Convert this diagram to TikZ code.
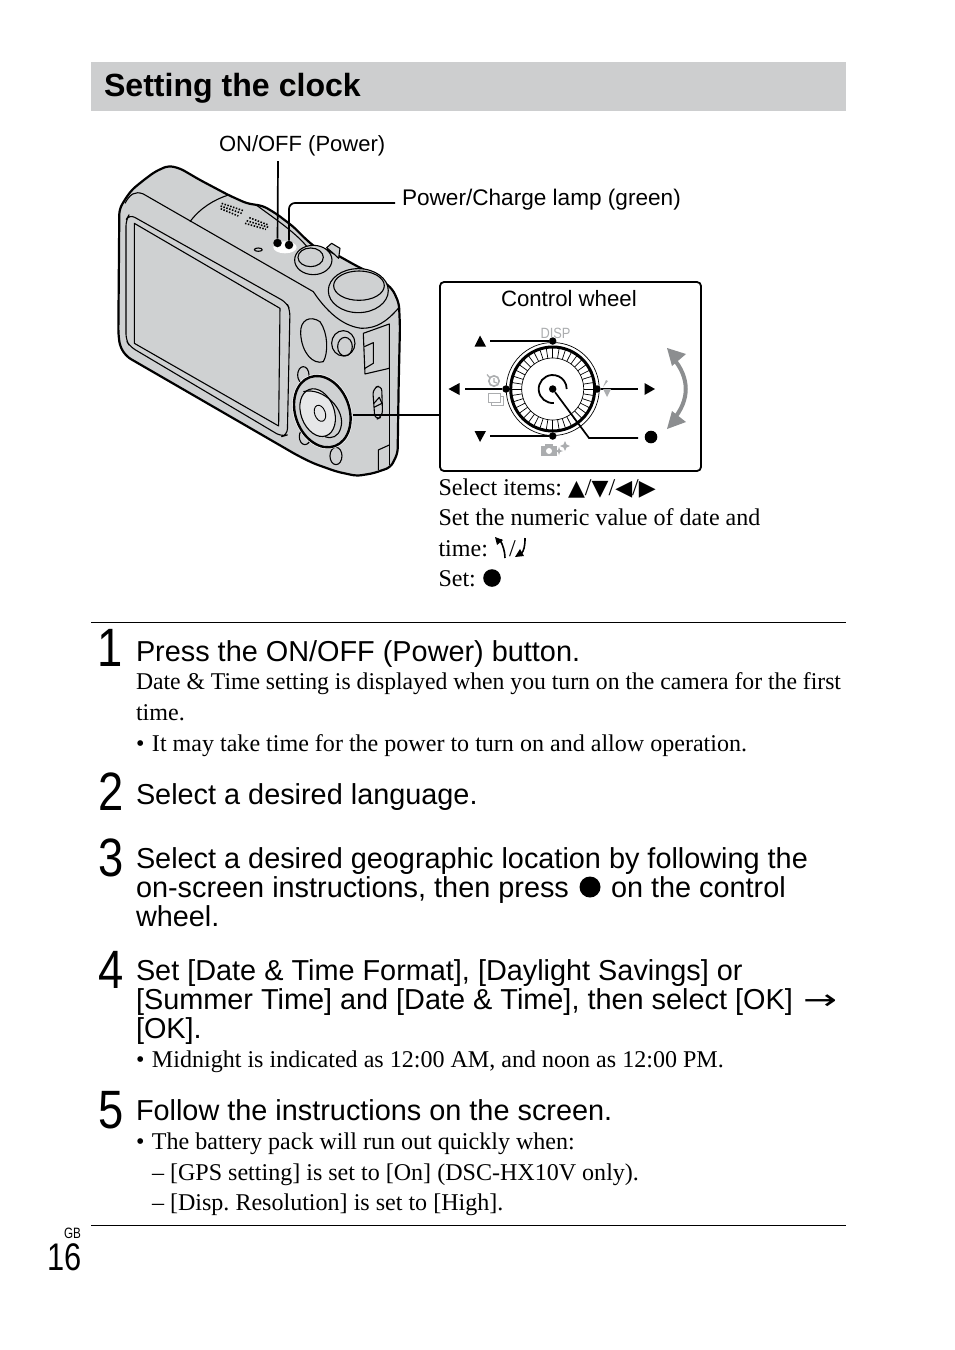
\documentclass[tikz,border=0pt]{standalone}
\usepackage{fontspec}
\usepackage{graphicx}
\usetikzlibrary{calc}
\setmainfont{Liberation Serif}
\setsansfont{Liberation Sans}
\newfontfamily\djv{DejaVu Sans}
\definecolor{band}{HTML}{CDCECF}
\definecolor{body}{HTML}{CFD1D2}
\definecolor{disc}{HTML}{E6E7E8}
\definecolor{wheelgray}{HTML}{8C8E90}
\definecolor{icongray}{HTML}{ABADAF}
\newcommand{\fsz}[1]{\fontsize{#1}{#1}\selectfont}
\newcommand{\bignum}[1]{\scalebox{0.84}[1]{\sffamily\fsz{54}#1}}
\newcommand{\tri}[1]{{\djv\fsz{22}#1}}
\newcommand{\bul}{\makebox[16pt][l]{•}}
\frenchspacing
\tikzset{
  txt/.style={anchor=base west,inner sep=0pt,outer sep=0pt},
  head/.style={txt,font=\sffamily\bfseries\fsz{32.1}},
  lab/.style={txt,font=\sffamily\fsz{22.2}},
  ser/.style={txt,font=\rmfamily\fsz{24.05}},
  stp/.style={txt,font=\sffamily\fsz{28.85}},
  num/.style={txt},
  cam/.style={line width=1.1pt,line join=round},
  camthick/.style={line width=2.2pt,line join=round},
  spk/.style={line width=1.6pt,dash pattern=on 1.5pt off 1.5pt},
  leader/.style={line width=1.7pt,black},
  dot/.style={circle,fill=black,inner sep=0pt,minimum size=7.5pt},
  rulel/.style={line width=0.8pt},
}
\begin{document}
\begin{tikzpicture}[x=1pt,y=-1pt]
\useasboundingbox (0,0) rectangle (954,1350);
\fill[white] (0,0) rectangle (954,1350);
\fill[band] (91,62) rectangle (846,111);
\node[head] (title) at (104,96) {Setting the clock};

% camera
\begin{scope}[shift={(100,120)},x=.3333pt,y=-.3333pt]
\filldraw[fill=body,camthick,rounded corners=5pt]
  (58,268) -- (75,238) -- (95,210) -- (125,185) -- (165,155) -- (205,137) -- (240,145) -- (300,180) -- (385,225) -- (440,250) -- (490,258) -- (530,282) -- (580,320) -- (620,360) -- (650,385) -- (680,388)
  -- (720,410) -- (770,438) -- (830,468) -- (878,508) -- (897,550) -- (900,620) -- (896,800) -- (893,1000) -- (872,1042) -- (820,1060) -- (770,1068) -- (710,1055) -- (640,1030) -- (590,1005) -- (400,895) -- (80,710) -- (60,680) -- (55,640) -- cycle;
% screen bezel and screen
\draw[cam,rounded corners=6pt] (78,300) -- (88,283) -- (560,548) -- (570,570) -- (562,945) -- (545,950) -- (90,680) -- (78,660) -- cycle;
\draw[cam] (103,310) -- (540,565) -- (536,918) -- (103,670) -- cycle;
% top edge of back plate
\draw[cam] (75,250) .. controls (90,222) and (105,212) .. (130,222) -- (640,515) .. controls (690,590) and (740,620) .. (785,625) .. controls (830,625) and (860,605) .. (895,565);
% flash hump
\draw[cam] (270,305) .. controls (300,265) and (340,240) .. (385,225);
\draw[cam] (470,256) .. controls (530,300) and (590,340) .. (625,385);
% speaker
\draw[spk] (365,250) -- (430,272) (362,258) -- (425,280) (362,266) -- (415,288);
\draw[spk] (448,293) -- (505,315) (440,302) -- (505,322) (435,310) -- (498,328);
\draw[cam] (475,389) ellipse (12 and 5);
% power button, dial, shutter
\fill[white] (555,382) ellipse (35 and 18);
\draw[cam,fill=body] (680,383) -- (695,370) -- (720,385) -- (716,415) -- (700,400) -- cycle;
\draw[cam,fill=body] (640,420) ellipse (56 and 44);
\draw[cam,fill=body] (632,412) ellipse (38 and 28);
\draw[cam,fill=body] (775,512) ellipse (90 and 66);
\draw[cam,fill=body] (777,497) ellipse (76 and 44);
% right-hand controls
\draw[cam] (602,640) .. controls (600,600) and (630,585) .. (660,605) .. controls (685,640) and (685,700) .. (670,725) .. controls (640,735) and (605,700) .. (602,640) -- cycle;
\draw[cam] (730,670) ellipse (35 and 38);
\draw[cam] (735,680) ellipse (22 and 28);
\draw[cam] (790,640) -- (868,612) -- (868,745) -- (795,762) -- cycle;
\draw[cam] (793,680) -- (820,668) -- (820,730) -- (795,745);
\draw[cam] (868,612) -- (868,1035);
\draw[cam,rounded corners=6pt] (818,805) -- (845,795) -- (848,890) -- (825,900) -- cycle;
\draw[cam] (822,850) -- (838,832) -- (846,850) -- (822,862);
\draw[cam] (835,1050) -- (835,990) -- (868,975);
\draw[cam] (610,765) ellipse (17 and 25);
\draw[cam] (615,950) ellipse (17 and 24);
\draw[cam] (708,1008) ellipse (18 and 26);
% control wheel on camera
\draw[white,line width=3.6pt] (667,875) ellipse[x radius=81,y radius=110,rotate=20];
\draw[camthick,line width=2.4pt,fill=body] (667,875) ellipse[x radius=81,y radius=110,rotate=20];
\draw[cam,fill=disc] (653,878) ellipse[x radius=50,y radius=74,rotate=20];
\draw[cam] (610,815) .. controls (670,800) and (740,870) .. (722,925) .. controls (715,950) and (695,958) .. (675,950);
\draw[line width=.9pt,fill=disc] (660,880) ellipse[x radius=16,y radius=25,rotate=20];
\end{scope}

\node[lab,font=\sffamily\fsz{22}] (onoff) at (219,151) {ON/OFF (Power)};
\node[lab,font=\sffamily\fsz{22.6}] (lamp) at (402,205) {Power/Charge lamp (green)};
\coordinate (onoffend) at (278,161);
\node[dot,minimum size=8.5pt] (ondot) at (277.5,243) {};
\node[dot,minimum size=8.5pt] (lampdot) at (289,245) {};
\coordinate (lampend) at (395,203);
\draw[leader] (onoffend) -- (ondot);
\draw[leader,rounded corners=6pt] (lampend) -- (289,203) -- (lampdot);

% control wheel panel
\node[draw,line width=1.8pt,rounded corners=4pt,minimum width=261pt,minimum height=189pt,inner sep=0pt,outer sep=0pt,anchor=north west] (panel) at (440,282) {};
\coordinate (camwheel) at (353,415);
\draw[line width=1.6pt] (camwheel) -- (panel.west |- camwheel);
\node[lab] (cwlabel) at (501,306) {Control wheel};

\coordinate (wc) at (552.7,389);
\draw[line width=.7pt] (wc) circle (46.5);
\draw[line width=.7pt] (wc) circle (31);
\foreach \a in {0,9,...,351} \draw[line width=.7pt] ($(wc)+(\a:31)$) -- ($(wc)+(\a:41)$);
\draw[line width=3pt] (wc) circle (42);
\draw[line width=1.8pt] ($(wc)+(85:14)$) arc[start angle=85,end angle=360,radius=14];
\node[dot] (dtop) at (552.7,341) {};
\node[dot] (dleft) at (506,389) {};
\node[dot] (dright) at (597,389) {};
\node[dot] (dbot) at (552.7,436) {};
\node[dot] (dc) at (wc) {};
\coordinate (ltop) at (490,341);
\coordinate (lleft) at (465,389);
\coordinate (lright) at (638,389);
\coordinate (lbot) at (490,436);
\coordinate (lset) at (638,438);
\draw[leader] (ltop) -- (dtop);
\draw[leader] (lleft) -- (dleft);
\draw[leader] (dright) -- (lright);
\draw[leader] (lbot) -- (dbot);
\draw[leader] (dc) -- (589,438) -- (lset);
\fill (480,335.5) -- (486,346.5) -- (474.5,346.5) -- cycle;
\fill (480,442) -- (486,431) -- (474.5,431) -- cycle;
\fill (448.5,389) -- (459.5,383) -- (459.5,395) -- cycle;
\fill (655,389) -- (644.5,383) -- (644.5,395) -- cycle;
\fill (651,437) circle (6.3);
% gray rotation arrow
\draw[wheelgray,line width=4pt] (673,358) .. controls (690,378) and (690,400) .. (673,420);
\fill[wheelgray] (667,348) -- (686,354) -- (672,366) -- cycle;
\fill[wheelgray] (667,429) -- (686,422) -- (672,411) -- cycle;
% gray icons
\node[txt,font=\sffamily\fsz{13.5},text=icongray] (disp) at (540.5,338.5) {\scalebox{.95}[1.1]{DISP}};
\draw[icongray,line width=1.6pt] (494,381) circle (5.2);
\draw[icongray,line width=1.2pt] (487,374.5) -- (490,378) (494,378) -- (494,382) -- (497,383);
\draw[icongray,line width=.9pt,fill=white] (491,396) rectangle (503,405);
\draw[icongray,line width=.9pt,fill=white] (488,393) rectangle (500,402);
\fill[icongray] (606,380) -- (603,387) -- (608,381) -- cycle;
\fill[icongray] (603,389) -- (611,389) -- (607,397) -- cycle;
\fill[icongray] (541,446) rectangle (557,456);
\fill[icongray] (545,443.5) rectangle (553,447);
\fill[white] (549,451) circle (3);
\fill[icongray] (565,441) -- (566.5,444.5) -- (570,446) -- (566.5,447.5) -- (565,451) -- (563.5,447.5) -- (560,446) -- (563.5,444.5) -- cycle;
\fill[icongray] (559,447) -- (560,450) -- (563,451) -- (560,452) -- (559,455) -- (558,452) -- (555,451) -- (558,450) -- cycle;

% note under panel
\node[ser] (n1) at (438.5,495) {Select items: \tri{▲}/\tri{▼}/\tri{◀}/\tri{▶}};
\node[ser] (n2) at (438.5,525) {Set the numeric value of date and};
\node[ser] (n3) at (438.5,556) {time:};
\draw[line width=1.6pt] (497,541) -- (502,540) (500,540) .. controls (503,545) and (505,552) .. (505,558);
\fill (495,537) -- (503,540) -- (497,545) -- cycle;
\node[ser] (n3b) at (509,556) {/};
\draw[line width=1.6pt] (525,538) .. controls (525,546) and (524,551) .. (521,554);
\fill (515,557) -- (524,556) -- (520,549) -- cycle;
\node[ser] (n4) at (438.5,586) {Set:};
\fill (492,578) circle (8.8);

\draw[rulel] (91,622.5) -- (846,622.5);
\draw[rulel] (91,1225.5) -- (846,1225.5);

\node[num] (s1) at (97,666) {\bignum{1}};
\node[stp] (t1) at (136,661) {Press the ON/OFF (Power) button.};
\node[ser] (t1a) at (136,689) {\scalebox{0.984}[1]{Date \& Time setting is displayed when you turn on the camera for the first}};
\node[ser] (t1b) at (136,720) {time.};
\node[ser] (t1c) at (136,751) {\bul It may take time for the power to turn on and allow operation.};

\node[num] (s2) at (98,810) {\bignum{2}};
\node[stp] (t2) at (136,804) {Select a desired language.};

\node[num] (s3) at (98,876) {\bignum{3}};
\node[stp] (t3a) at (136,868) {Select a desired geographic location by following the};
\node[stp] (t3b) at (136,897) {on-screen instructions, then press};
\fill (590,887) circle (10.5);
\node[stp] (t3c) at (611,897) {on the control};
\node[stp] (t3d) at (136,926) {wheel.};

\node[num] (s4) at (98,988) {\bignum{4}};
\node[stp] (t4a) at (136,980) {Set [Date \& Time Format], [Daylight Savings] or};
\node[stp] (t4b) at (136,1009) {[Summer Time] and [Date \& Time], then select [OK]};
\node[txt] (t4e) at (803,1009) {\scalebox{1.45}[1]{\djv\fsz{28}→}};
\node[stp] (t4c) at (136,1038) {[OK].};
\node[ser] (t4d) at (136,1067) {\bul Midnight is indicated as 12:00 AM, and noon as 12:00 PM.};

\node[num] (s5) at (98,1128) {\bignum{5}};
\node[stp] (t5) at (136,1120) {Follow the instructions on the screen.};
\node[ser] (t5a) at (136,1149) {\bul The battery pack will run out quickly when:};
\node[ser] (t5b) at (152,1180) {– [GPS setting] is set to [On] (DSC-HX10V only).};
\node[ser] (t5c) at (152,1210) {– [Disp. Resolution] is set to [High].};

\node[txt,font=\sffamily\fsz{15}] (gb) at (64,1238) {\scalebox{0.78}[1]{GB}};
\node[num] (pg) at (47.5,1270) {\scalebox{0.8}[1]{\sffamily\fsz{38.5}16}};
\end{tikzpicture}
\end{document}
